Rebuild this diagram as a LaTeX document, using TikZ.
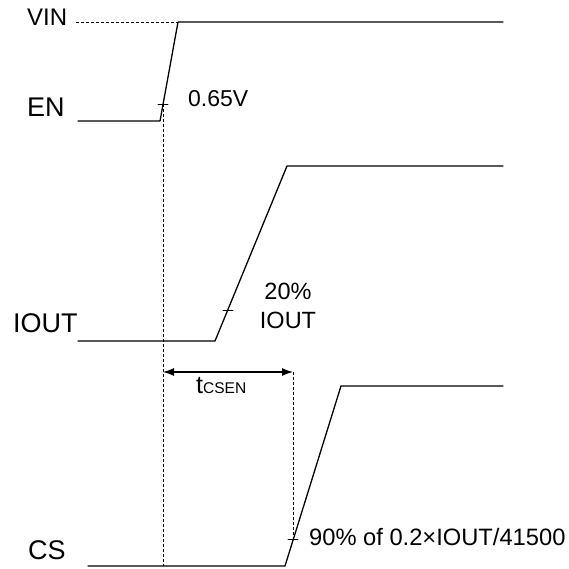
\documentclass[tikz,border=0pt]{standalone}
\usepackage{fontspec}
\setmainfont{Liberation Sans}
\usetikzlibrary{arrows.meta}
\newcommand{\fsz}[1]{\fontsize{#1}{#1}\selectfont}
\begin{document}
\begin{tikzpicture}[x=1pt,y=-1pt,line cap=round,line join=round,>={Latex[length=11pt,width=8pt]},
	wave/.style={line width=1.3pt},
	guide/.style={line width=0.8pt,dash pattern=on 3pt off 2pt,line cap=butt},
	ticmark/.style={line width=0.8pt},
	lbl/.style={anchor=base west,inner sep=0pt}]
	\useasboundingbox (0,0) rectangle (569,569);
	% signal names
	\node[lbl,font=\fsz{24}] (vin) at (27,26) {VIN};
	\node[lbl,font=\fsz{27}] (en) at (27,117) {EN};
	\node[lbl,font=\fsz{27}] (iout) at (13,332) {IOUT};
	\node[lbl,font=\fsz{27}] (cs) at (28,559) {CS};
	% EN
	\coordinate (en0) at (78,121);
	\coordinate (en1) at (160,121);
	\coordinate (en2) at (178,22);
	\coordinate (en3) at (503,22);
	\coordinate (vindash) at (76,22);
	\draw[wave] (en0) -- (en1) -- (en2) -- (en3);
	\draw[guide] (vindash) -- (en2);
	% IOUT
	\coordinate (io0) at (78,341);
	\coordinate (io1) at (215,341);
	\coordinate (io2) at (287,166);
	\coordinate (io3) at (503,166);
	\draw[wave] (io0) -- (io1) -- (io2) -- (io3);
	% CS
	\coordinate (cs0) at (88,566);
	\coordinate (cs1) at (285,566);
	\coordinate (cs2) at (341,386);
	\coordinate (cs3) at (503,386);
	\draw[wave] (cs0) -- (cs1) -- (cs2) -- (cs3);
	% threshold marks
	\coordinate (ten) at (163,104);
	\coordinate (tio) at (228,310);
	\coordinate (tcs) at (293,539);
	\foreach \p in {ten,tio,tcs}
		\draw[ticmark] (\p) ++(-5,0) -- ++(10,0);
	\node[lbl,font=\fsz{23}] (v065) at (188,107) {0.65V};
	\node[font=\fsz{23.5},inner sep=0pt,anchor=base] (pct) at (288,299) {20\%};
	\node[font=\fsz{23.5},inner sep=0pt,anchor=base] (pctb) at (288,328) {IOUT};
	\node[lbl,font=\fsz{23.7}] (csth) at (309,545) {90\% of 0.2×IOUT/41500};
	% delay
	\coordinate (bot) at (163,566);
	\coordinate (a1) at (163,372);
	\coordinate (a2) at (293,372);
	\draw[guide] (ten) -- (bot);
	\draw[guide] (a2) -- (tcs);
	\draw[<->,line width=1.1pt] (a1) -- (a2);
	\node[lbl] (tcsen) at (196,393) {\fsz{25}t\fsz{15.5}CSEN};
\end{tikzpicture}
\end{document}
